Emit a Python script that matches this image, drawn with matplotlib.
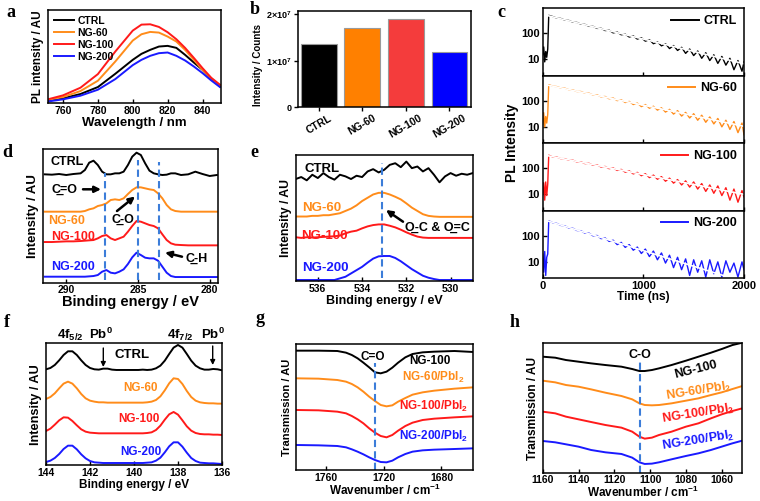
import matplotlib
matplotlib.use('Agg')
import matplotlib.pyplot as plt
import numpy as np

plt.rcParams['font.family'] = ['Liberation Sans', 'DejaVu Sans']
plt.rcParams['font.weight'] = 'bold'
plt.rcParams['axes.labelweight'] = 'bold'
plt.rcParams['mathtext.default'] = 'regular'
plt.rcParams['axes.linewidth'] = 1.1

# ---------------- data ----------------
names = ['CTRL', 'NG-60', 'NG-100', 'NG-200']
# (a) steady-state PL
a_wl = [752, 760, 770, 780, 790, 800, 805, 810, 815, 820, 825, 830, 835, 840, 845, 850]
a_ctrl = [7, 14, 27, 48, 88, 130, 148, 160, 170, 172, 166, 145, 122, 100, 72, 50]
a_ng60 = [10, 18, 36, 67, 125, 188, 207, 214, 212, 200, 185, 160, 130, 100, 74, 52]
a_ng100 = [12, 23, 46, 87, 155, 218, 236, 237, 229, 213, 192, 166, 136, 105, 76, 55]
a_ng200 = [5, 11, 22, 40, 72, 114, 130, 142, 150, 152, 142, 128, 110, 90, 68, 48]

# (b) integrated intensity
b_counts = [1.36e7, 1.69e7, 1.885e7, 1.19e7]

# (c) TRPL decays
c_time = [0, 10, 20, 30, 40, 50] + list(range(60, 2000, 40)) + [2000]
c_ctrl = [15, 30, 8, 20, 12, 25,
          490, 440, 385, 372, 322, 312, 268, 262, 225, 220,
          186, 185, 155, 156, 128, 132, 104, 112, 88, 93,
          72, 80, 60, 68, 50, 57, 40, 47, 33, 40,
          26, 34, 22, 29, 17, 25, 14, 21, 11, 18,
          9, 15, 7, 13, 6, 11, 4, 9, 3.5, 8]
c_ng60 = [12, 35, 10, 25, 14, 30,
          420, 365, 352, 312, 305, 268, 262, 228, 228, 196,
          196, 168, 170, 142, 147, 120, 128, 102, 110, 86,
          95, 72, 82, 60, 72, 52, 62, 44, 54, 37,
          47, 31, 42, 26, 36, 22, 32, 18, 28, 15,
          24, 13, 21, 10, 18, 8, 16, 6, 14, 5]
c_ng100 = [10, 28, 6, 30, 9, 25,
           320, 272, 270, 236, 235, 204, 205, 176, 178, 152,
           156, 131, 136, 112, 118, 97, 104, 83, 91, 71,
           80, 61, 70, 52, 62, 44, 55, 38, 48, 32,
           42, 27, 37, 23, 33, 19, 30, 16, 26, 13,
           23, 11, 21, 9, 18, 6, 16, 5, 14, 8]
c_ng200 = [20, 4, 25, 3, 15, 20,
           380, 318, 300, 252, 242, 200, 195, 160, 157, 126,
           127, 100, 103, 78, 83, 61, 68, 46, 56, 36,
           46, 28, 37, 21, 31, 16, 26, 12, 22, 9,
           18, 6, 15, 5, 13, 3, 12, 4, 11, 2.6,
           12, 3.5, 10, 2.6, 11, 4, 9, 2.6, 10, 5]
c_fit_t = [60, 2000]
c_fit = [[468, 6.8], [395, 10.5], [300, 10.0], [363, 1.7]]

# (d) C 1s XPS
d_be = [291.5, 291.0, 290.5, 290.0, 289.5, 289.0, 288.7, 288.4, 288.1, 287.8, 287.5, 287.2,
        286.9, 286.6, 286.3, 286.0, 285.7, 285.4, 285.1, 284.8, 284.5, 284.2, 283.9, 283.6,
        283.3, 283.0, 282.7, 282.4, 282.0, 281.5, 281.0, 280.5, 280.0, 279.5]
d_ctrl = [325, 324, 326, 323, 326, 328, 338, 360, 366, 353, 333, 325, 325, 328, 328, 333, 353,
          378, 390, 383, 358, 336, 328, 325, 323, 324, 328, 328, 323, 325, 333, 326, 320, 323]
d_ng60 = [213, 213, 213, 213, 213, 213, 215, 220, 223, 230, 233, 238, 248, 250, 248, 253, 266,
          278, 286, 286, 283, 280, 278, 268, 253, 233, 220, 215, 213, 213, 213, 213, 213, 213]
d_ng100 = [122, 122, 123, 124, 124, 125, 126, 127, 128, 133, 140, 143, 133, 128, 133, 138, 153,
           170, 185, 183, 178, 173, 170, 163, 145, 128, 118, 114, 113, 112, 112, 112, 112, 112]
d_ng200 = [18, 18, 18, 18, 18, 18, 18, 19, 20, 23, 33, 38, 30, 28, 33, 40, 56,
           76, 90, 83, 75, 73, 73, 66, 48, 30, 20, 17, 17, 17, 17, 17, 17, 17]
d_peaks = [287.3, 285.0, 283.5]

# (e) O 1s XPS
e_be = list(np.arange(537.0, 528.99, -0.25))
e_ctrl = [310, 316, 306, 323, 313, 328, 316, 308, 323, 318, 310, 320, 316, 333, 340, 330, 338,
          353, 358, 346, 363, 343, 348, 333, 343, 323, 300, 318, 328, 320, 326, 323, 328]
e_ng60 = [196, 196, 196, 198, 198, 200, 200, 203, 206, 213, 220, 230, 243, 253, 263, 268, 268,
          263, 256, 248, 236, 223, 213, 203, 198, 196, 195, 195, 195, 195, 195, 195, 195]
e_ng100 = [133, 131, 133, 132, 133, 134, 135, 136, 138, 145, 150, 153, 160, 166, 170, 172, 172,
           168, 163, 156, 148, 141, 135, 132, 131, 131, 131, 131, 131, 131, 131, 131, 131]
e_ng200 = [3, 3, 3, 3, 3, 3, 3, 3, 8, 13, 23, 33, 43, 56, 68, 75, 76,
           76, 70, 60, 48, 36, 26, 16, 10, 6, 3, 3, 3, 3, 3, 3, 3]
e_peak = 533.1

# (f) Pb 4f XPS
f_be = list(np.arange(144.0, 135.99, -0.2))
f_ctrl = [287, 291, 300, 314, 330, 341, 341, 330, 314, 300, 291, 287, 286, 289, 289, 286, 285,
          285, 285, 285, 285, 285, 286, 285, 286, 290, 298, 313, 333, 352, 360, 352, 333, 313,
          298, 290, 286, 286, 288, 287, 284]
f_ng60 = [198, 204, 215, 230, 244, 250, 244, 230, 213, 200, 193, 190, 188, 188, 187, 187, 187,
          187, 187, 187, 187, 187, 187, 188, 190, 195, 206, 224, 245, 260, 258, 243, 222, 204,
          193, 188, 186, 185, 185, 184, 184]
f_ng100 = [102, 109, 121, 134, 143, 142, 132, 119, 107, 100, 97, 96, 95, 95, 95, 95, 95,
           95, 95, 95, 95, 95, 95, 96, 98, 105, 118, 136, 152, 159, 151, 134, 116, 103,
           96, 93, 92, 92, 91, 91, 90]
f_ng200 = [9, 13, 21, 33, 48, 58, 58, 47, 32, 20, 12, 8, 7, 6, 6, 6, 6,
           6, 6, 6, 6, 6, 6, 7, 8, 13, 22, 38, 56, 68, 68, 55, 37, 21,
           12, 7, 6, 5, 5, 4, 3]

# (g) FTIR C=O region
g_wn = [1780, 1765, 1752, 1746, 1742, 1738, 1734, 1730, 1726, 1722, 1718, 1714, 1710, 1705,
        1700, 1693, 1685, 1671, 1658]
g_ng100 = [358, 358, 357, 352, 345, 335, 322, 308, 293, 290, 295, 307, 322, 338, 348, 353, 355, 357, 354]
g_ng60p = [275, 274, 270, 265, 258, 248, 235, 220, 207, 195, 191, 194, 205, 216, 226, 233, 238, 244, 248]
g_ng100p = [180, 179, 175, 170, 162, 152, 140, 125, 112, 102, 98, 105, 118, 132, 142, 150, 154, 158, 161]
g_ng200p = [75, 74, 72, 68, 62, 55, 47, 38, 30, 24, 23, 28, 38, 48, 55, 59, 61, 63, 65]
g_peak = 1726

# (h) FTIR C-O region
h_wn = [1160, 1153, 1147, 1140, 1133, 1125, 1116, 1110, 1106, 1103, 1099, 1095, 1088, 1080,
        1073, 1066, 1060, 1054, 1048.5]
h_ng100 = [350, 347, 340, 335, 330, 325, 320, 313, 307, 307, 310, 315, 325, 338, 350, 362, 373, 385, 392]
h_ng60p = [278, 273, 265, 260, 252, 242, 232, 222, 210, 205, 204, 205, 210, 218, 225, 235, 243, 253, 262]
h_ng100p = [185, 180, 170, 162, 154, 145, 137, 125, 110, 104, 107, 115, 125, 140, 150, 165, 177, 187, 195]
h_ng200p = [97, 93, 87, 80, 70, 63, 58, 47, 33, 28, 29, 33, 42, 52, 60, 70, 80, 90, 98]
h_peak = 1105.6

# ---------------- styling ----------------
BLK, ORG, RED, BLU = '#000000', '#FF8C1A', '#FF1A1A', '#1A1AFF'
cols = [BLK, ORG, RED, BLU]
bar_cols = ['#000000', '#FF8000', '#F43C3C', '#0000FF']
DASH = '#3C7DD9'

W, H = 760, 501
fig = plt.figure(figsize=(7.6, 5.01), dpi=100)


def rect(x0, y0, x1, y1):
    return [x0 / W, 1 - y1 / H, (x1 - x0) / W, (y1 - y0) / H]


def ftext(x, y, s, **kw):
    kw.setdefault('ha', 'center')
    kw.setdefault('va', 'center')
    kw.setdefault('fontweight', 'bold')
    fig.text(x / W, 1 - y / H, s, **kw)


def arrow(ax, x0, y0, x1, y1, lw=1.8, ms=9):
    ax.annotate('', xy=(x1 / W, 1 - y1 / H), xytext=(x0 / W, 1 - y0 / H),
                xycoords='figure fraction', textcoords='figure fraction',
                arrowprops=dict(arrowstyle='-|>', color='k', lw=lw, mutation_scale=ms,
                                shrinkA=0, shrinkB=0))


def style(ax, ls=7.5):
    ax.tick_params(labelsize=ls, direction='in', width=1, length=3, pad=2)
    for t in ax.get_xticklabels() + ax.get_yticklabels():
        t.set_fontweight('bold')


def plabel(x, y, s):
    fig.text(x / W, 1 - y / H, s, fontsize=13, fontweight='bold',
             family=['Liberation Serif', 'DejaVu Serif'], ha='left', va='baseline')


# ---------------- (a) ----------------
axa = fig.add_axes(rect(48, 10, 221, 103))
for vals, c, n in zip([a_ctrl, a_ng60, a_ng100, a_ng200], cols, names):
    axa.plot(a_wl, vals, color=c, lw=1.4, label=n)
axa.set_xlim(751.4, 850.6)
axa.set_ylim(0, 280)
axa.set_yticks([])
axa.set_xticks([760, 780, 800, 820, 840])
style(axa, 7.5)
axa.set_xlabel('Wavelength / nm', fontsize=9.5, labelpad=1)
axa.set_ylabel('PL intensity / AU', fontsize=8.5, labelpad=3)
leg = axa.legend(loc='upper left', frameon=False, handlelength=1.9, handletextpad=0.4,
                 borderaxespad=0.15, labelspacing=0.2, prop={'weight': 'bold', 'size': 7.5})

# ---------------- (b) ----------------
axb = fig.add_axes(rect(298.3, 11, 470.7, 107.3))
axb.bar(range(len(names)), b_counts, width=0.82, color=bar_cols, edgecolor='#9a9a9a', lw=0.8)
axb.set_xlim(-0.47, 3.49)
axb.set_ylim(0, 2.065e7)
axb.set_yticks([0, 1e7, 2e7])
axb.set_yticklabels(['0', r'1×10$^7$', r'2×10$^7$'])
axb.set_xticks(range(len(names)))
axb.set_xticklabels(names, rotation=30, ha='center')
style(axb, 6.5)
axb.tick_params(direction='out')
axb.tick_params(axis='x', labelsize=7.5, pad=1)
axb.set_ylabel('Intensity / Counts', fontsize=7.0, labelpad=2)
axb.yaxis.label.set_y(0.44)

# ---------------- (c) ----------------
c_data = [c_ctrl, c_ng60, c_ng100, c_ng200]
top = 8.0
hh = 67.5
for i in range(4):
    ax = fig.add_axes(rect(542.7, top + i * hh, 744, top + (i + 1) * hh))
    ax.semilogy(c_time, c_data[i], color=cols[i], lw=1.0, label=names[i])
    ax.semilogy(c_fit_t, c_fit[i], color='white', lw=1.2)
    ax.set_xlim(0, 2000)
    ax.set_ylim(2.4, 940)
    ax.set_yticks([10, 100])
    ax.set_yticklabels(['10', '100'])
    ax.minorticks_off()
    ax.set_xticks([0, 1000, 2000])
    style(ax, 8)
    if i < 3:
        ax.set_xticklabels([])
    else:
        ax.set_xlabel('Time (ns)', fontsize=8.6, labelpad=0)
    lg = ax.legend(loc='upper right', frameon=False, handlelength=2.2, handletextpad=0.4,
                   borderaxespad=0.15, prop={'weight': 'bold', 'size': 9})
    for l in lg.get_lines():
        l.set_linewidth(1.4)
ftext(512, 143, 'PL Intensity', rotation=90, fontsize=10)

# ---------------- (d) ----------------
axd = fig.add_axes(rect(43.3, 149, 218.3, 282.7))
for vals, c in zip([d_ctrl, d_ng60, d_ng100, d_ng200], cols):
    axd.plot(d_be, vals, color=c, lw=1.4)
for xp, ym in zip(d_peaks, [0.82, 0.92, 0.9]):
    axd.axvline(xp, ymin=0.02, ymax=ym, color=DASH, ls='--', lw=1.5, dashes=(3.5, 2))
axd.set_xlim(291.6, 279.4)
axd.set_ylim(0, 401)
axd.set_yticks([])
axd.set_xticks([290, 285, 280])
style(axd, 7.5)
axd.set_xlabel('Binding energy / eV', fontsize=10.5, labelpad=0)
axd.set_ylabel('Intensity / AU', fontsize=9.5, labelpad=3)
ftext(66.7, 161.7, 'CTRL', fontsize=9)
ftext(64, 189.3, 'C\u0332=O', fontsize=9)
ftext(66.7, 221, 'NG-60', fontsize=9, color=ORG)
ftext(73.3, 236.7, 'NG-100', fontsize=9, color=RED)
ftext(73.3, 266.7, 'NG-200', fontsize=9, color=BLU)
ftext(123.3, 220, 'C\u0332-O', fontsize=9)
ftext(196.7, 258.3, 'C\u0332-H', fontsize=9)
arrow(axd, 83, 189.3, 101, 189.3)
arrow(axd, 117, 211, 135, 196.5)
arrow(axd, 182, 256.7, 165, 252.5)

# ---------------- (e) ----------------
axe = fig.add_axes(rect(295.7, 155, 472.7, 281))
for vals, c in zip([e_ctrl, e_ng60, e_ng100, e_ng200], cols):
    axe.plot(e_be, vals, color=c, lw=1.4)
axe.axvline(e_peak, ymin=0.02, ymax=0.94, color=DASH, ls='--', lw=1.5, dashes=(3.5, 2))
axe.set_xlim(537, 529)
axe.set_ylim(0, 383)
axe.set_yticks([])
axe.set_xticks([536, 534, 532, 530])
style(axe, 7.5)
axe.set_xlabel('Binding energy / eV', fontsize=9, labelpad=1)
axe.set_ylabel('Intensity / AU', fontsize=8.8, labelpad=3)
ftext(321.7, 169.3, 'CTRL', fontsize=9.5)
ftext(321.7, 208.3, 'NG-60', fontsize=9.5, color=ORG)
ftext(324, 235.7, 'NG-100', fontsize=9.5, color=RED)
ftext(325, 268.3, 'NG-200', fontsize=9.5, color=BLU)
ftext(437, 227.3, 'O\u0332-C & O\u0332=C', fontsize=9)
arrow(axe, 403, 221.7, 386, 210)

# ---------------- (f) ----------------
axf = fig.add_axes(rect(46, 343.3, 222, 465))
for vals, c in zip([f_ctrl, f_ng60, f_ng100, f_ng200], cols):
    axf.plot(f_be, vals, color=c, lw=1.4)
axf.set_xlim(144, 136)
axf.set_ylim(0, 365)
axf.set_yticks([])
axf.set_xticks([144, 142, 140, 138, 136])
style(axf, 7.5)
axf.set_xlabel('Binding energy / eV', fontsize=8.5, labelpad=1)
axf.set_ylabel('Intensity / AU', fontsize=9.2, labelpad=3)
ftext(70, 335, r'4f$_{5/2}$', fontsize=9.5)
ftext(101, 334, r'Pb$^{0}$', fontsize=9.5)
ftext(180, 335, r'4f$_{7/2}$', fontsize=9.5)
ftext(212.5, 334, r'Pb$^{0}$', fontsize=9.5)
ftext(132.5, 355, 'CTRL', fontsize=9.5)
ftext(140, 388.3, 'NG-60', fontsize=8.5, color=ORG)
ftext(139, 419.3, 'NG-100', fontsize=8.5, color=RED)
ftext(140.7, 451.7, 'NG-200', fontsize=8.5, color=BLU)
arrow(axf, 103.3, 348, 103.3, 367, lw=1.0, ms=7)
arrow(axf, 212.7, 346, 212.7, 365, lw=1.0, ms=7)

# ---------------- (g) ----------------
axg = fig.add_axes(rect(295.7, 344, 473.3, 470))
for vals, c in zip([g_ng100, g_ng60p, g_ng100p, g_ng200p], cols):
    axg.plot(g_wn, vals, color=c, lw=1.4)
axg.axvline(g_peak, ymin=0.0, ymax=0.85, color=DASH, ls='--', lw=1.5, dashes=(3.5, 2))
axg.set_xlim(1780.8, 1658)
axg.set_ylim(0, 378)
axg.set_yticks([])
axg.set_xticks([1760, 1720, 1680])
style(axg, 7.5)
axg.set_xlabel('Wavenumber / cm$^{-1}$', fontsize=8.5, labelpad=0)
axg.set_ylabel('Transmission / AU', fontsize=8, labelpad=3)
ftext(372.3, 356.7, 'C=O', fontsize=8.5)
ftext(430, 361, 'NG-100', fontsize=8.5)
ftext(433.3, 377.3, 'NG-60/PbI$_2$', fontsize=8.5, color=ORG)
ftext(434, 406.7, 'NG-100/PbI$_2$', fontsize=8.5, color=RED)
ftext(434, 436.7, 'NG-200/PbI$_2$', fontsize=8.5, color=BLU)

# ---------------- (h) ----------------
axh = fig.add_axes(rect(542.7, 342.7, 742.3, 473.3))
for vals, c in zip([h_ng100, h_ng60p, h_ng100p, h_ng200p], cols):
    axh.plot(h_wn, vals, color=c, lw=1.4)
axh.axvline(h_peak, ymin=0.0, ymax=0.85, color=DASH, ls='--', lw=1.5, dashes=(3.5, 2))
axh.set_xlim(1160, 1048.5)
axh.set_ylim(0, 392)
axh.set_yticks([])
axh.set_xticks([1160, 1140, 1120, 1100, 1080, 1060])
style(axh, 7.5)
axh.tick_params(axis='x', pad=1.5)
axh.set_xlabel('Wavenumber / cm$^{-1}$', fontsize=8.5, labelpad=-0.5)
axh.set_ylabel('Transmission / AU', fontsize=8.6, labelpad=3)
ftext(640, 355, 'C-O', fontsize=9)
ftext(695.7, 369.3, 'NG-100', fontsize=9, rotation=14)
ftext(698.3, 391.7, 'NG-60/PbI$_2$', fontsize=9, color=ORG, rotation=9)
ftext(698.3, 414, 'NG-100/PbI$_2$', fontsize=9, color=RED, rotation=9)
ftext(698.3, 440.7, 'NG-200/PbI$_2$', fontsize=9, color=BLU, rotation=9)

# ---------------- panel letters ----------------
plabel(6, 16.7, 'a')
plabel(250, 14.5, 'b')
plabel(497, 16.7, 'c')
plabel(2, 157.3, 'd')
plabel(250, 156.7, 'e')
plabel(3.5, 326.7, 'f')
plabel(255, 322.7, 'g')
plabel(510, 326.7, 'h')

fig.savefig('out.png', dpi=100, facecolor='white')
